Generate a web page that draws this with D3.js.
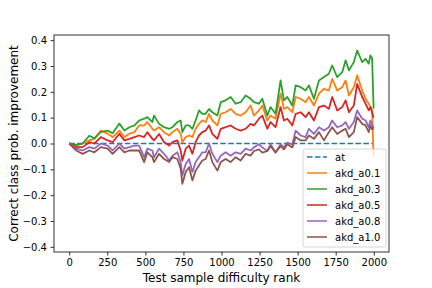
<!DOCTYPE html>
<html>
<head>
<meta charset="utf-8">
<script src="https://cdn.jsdelivr.net/npm/d3@7"></script>
<style>
  body { margin: 0; background: #fff; }
  svg text { font-family: "DejaVu Sans", sans-serif; fill: #000; }
</style>
</head>
<body>
<svg id="chart" width="432" height="288"></svg>
<script>
const ranks = [0, 45, 88, 132, 165, 208, 252, 285, 329, 362, 395, 428,
  459, 492, 513, 546, 557, 590, 623, 656, 678, 710, 732, 743, 765, 787, 809, 830,
  852, 874, 896, 918, 940, 973, 995, 1027, 1060, 1093, 1126, 1158, 1191,
  1213, 1246, 1268, 1301, 1322, 1355, 1388, 1410, 1432, 1465, 1487, 1520, 1552,
  1574, 1607, 1640, 1673, 1705, 1727, 1760, 1793, 1815, 1837, 1869, 1891, 1924,
  1946, 1967, 1978, 1989, 1999];

const atVals = ranks.map(() => 0);

const a01 = [0, -0.008, 0, 0.012, 0.018, 0.05, 0.038, 0.025, 0.05, 0.025, 0.038, 0.044,
  0.07, 0.07, 0.083, 0.057, 0.05, 0.063, 0.044, 0.031, 0.044, 0.057, 0.037, 0.005, 0.025, 0.031, 0.025, 0.057,
  0.076, 0.089, 0.083, 0.115, 0.089, 0.07, 0.115, 0.121, 0.134, 0.115, 0.108, 0.121, 0.147,
  0.108, 0.128, 0.147, 0.089, 0.108, 0.096, 0.193, 0.134, 0.141, 0.121, 0.18, 0.173, 0.16,
  0.18, 0.147, 0.193, 0.212, 0.205, 0.25, 0.205, 0.218, 0.244, 0.186, 0.218, 0.264, 0.205,
  0.173, 0.154, 0.141, 0.13, -0.055];

const a03 = [0, -0.005, 0, 0.03, 0.02, 0.045, 0.05, 0.04, 0.077, 0.05, 0.063, 0.07,
  0.089, 0.096, 0.102, 0.083, 0.108, 0.076, 0.063, 0.057, 0.063, 0.083, 0.089, 0.044, 0.07, 0.07, 0.057, 0.089,
  0.128, 0.115, 0.115, 0.134, 0.121, 0.108, 0.16, 0.167, 0.18, 0.154, 0.16, 0.186, 0.173,
  0.16, 0.154, 0.173, 0.108, 0.141, 0.115, 0.244, 0.167, 0.18, 0.147, 0.225, 0.218, 0.205,
  0.225, 0.173, 0.244, 0.257, 0.27, 0.302, 0.257, 0.276, 0.322, 0.283, 0.315, 0.36, 0.315,
  0.328, 0.309, 0.341, 0.33, 0.135];

const a05 = [0, -0.014, -0.014, 0.005, 0, 0.025, 0.012, 0.005, 0.038, 0.012, 0.018, 0.025,
  0.031, 0.025, 0.044, 0.018, 0.012, 0.037, 0.005, -0.008, 0.005, 0.012, -0.027, -0.066, -0.02, -0.008, -0.04, 0.005,
  0.031, 0.044, 0.05, 0.07, 0.037, 0.018, 0.057, 0.063, 0.07, 0.057, 0.05, 0.057, 0.076,
  0.07, 0.096, 0.108, 0.057, 0.083, 0.063, 0.141, 0.089, 0.096, 0.07, 0.115, 0.121, 0.102,
  0.121, 0.089, 0.141, 0.147, 0.134, 0.18, 0.128, 0.141, 0.167, 0.121, 0.147, 0.231, 0.18,
  0.154, 0.128, 0.141, 0.12, 0.1];

const a08 = [0, -0.02, -0.027, -0.014, -0.02, 0, -0.008, -0.027, 0, -0.02, -0.014, -0.008,
  -0.008, -0.053, -0.02, -0.027, -0.053, -0.02, -0.04, -0.066, -0.047, -0.034, -0.072, -0.124, -0.079, -0.06, -0.11, -0.072,
  -0.053, -0.034, -0.034, 0, -0.04, -0.072, -0.047, -0.034, -0.047, -0.034, -0.04, -0.02, -0.027,
  -0.015, -0.003, -0.015, -0.029, -0.003, -0.035, -0.003, -0.015, 0.003, -0.003, 0.05, 0.031, 0.025,
  0.057, 0.037, 0.063, 0.05, 0.063, 0.089, 0.063, 0.07, 0.083, 0.057, 0.083, 0.128, 0.096,
  0.089, 0.063, 0.089, 0.075, 0.06];

const a10 = [0, -0.027, -0.04, -0.027, -0.034, -0.014, -0.02, -0.04, -0.014, -0.034, -0.027, -0.027,
  -0.027, -0.072, -0.034, -0.053, -0.072, -0.04, -0.06, -0.072, -0.053, -0.06, -0.098, -0.156, -0.11, -0.092, -0.143, -0.105,
  -0.085, -0.066, -0.06, -0.027, -0.072, -0.105, -0.072, -0.06, -0.072, -0.053, -0.066, -0.04, -0.047,
  -0.029, -0.023, -0.035, -0.029, -0.01, -0.035, -0.01, -0.023, -0.003, -0.015, 0.025, 0.012, 0.012,
  0.031, 0.018, 0.044, 0.012, 0.044, 0.063, 0.037, 0.05, 0.057, 0.025, 0.044, 0.102, 0.076,
  0.07, 0.044, 0.07, 0.055, 0.06];

const seriesNames = ["at", "akd_a0.1", "akd_a0.3", "akd_a0.5", "akd_a0.8", "akd_a1.0"];
const seriesVals = [atVals, a01, a03, a05, a08, a10];
const colors = ["#1f77b4", "#ff7f0e", "#2ca02c", "#d62728", "#9467bd", "#8c564b"];
const xTicks = [0, 250, 500, 750, 1000, 1250, 1500, 1750, 2000];
const yTicks = [-0.4, -0.3, -0.2, -0.1, 0.0, 0.1, 0.2, 0.3, 0.4];

const svg = d3.select("#chart");
const margin = {top: 35, right: 43, bottom: 36, left: 54};
const W = 432, H = 288;

const x = d3.scaleLinear().domain([-100, 2100]).range([margin.left, W - margin.right]);
const y = d3.scaleLinear().domain([-0.42, 0.42]).range([H - margin.bottom, margin.top]);

const fmt = v => d3.format(".1f")(v).replace("-", "\u2212");

// axes
const xAxis = svg.append("g")
  .attr("transform", `translate(0,${H - margin.bottom})`)
  .call(d3.axisBottom(x).tickValues(xTicks).tickSize(3.5).tickPadding(3.5).tickFormat(d3.format("d")));
const yAxis = svg.append("g")
  .attr("transform", `translate(${margin.left},0)`)
  .call(d3.axisLeft(y).tickValues(yTicks).tickSize(3.5).tickPadding(3.5).tickFormat(fmt));
[xAxis, yAxis].forEach(a => {
  a.select(".domain").remove();
  a.selectAll("line").attr("stroke", "#000").attr("stroke-width", 0.8);
  a.selectAll("text").attr("font-size", 10).attr("font-family", "DejaVu Sans");
});

// lines
const line = d3.line()
  .x((d, i) => x(ranks[i]))
  .y(d => y(d));

svg.append("defs").append("clipPath").attr("id", "clip")
  .append("rect")
  .attr("x", margin.left).attr("y", margin.top)
  .attr("width", W - margin.left - margin.right)
  .attr("height", H - margin.top - margin.bottom);

const plot = svg.append("g").attr("clip-path", "url(#clip)");
seriesVals.forEach((vals, k) => {
  plot.append("path")
    .datum(vals)
    .attr("d", line)
    .attr("fill", "none")
    .attr("stroke", colors[k])
    .attr("stroke-width", k == 0 ? 1.5 : 1.8)
    .attr("stroke-linejoin", "round")
    .attr("stroke-dasharray", k == 0 ? "5.55,2.4" : null);
});

// frame
svg.append("rect")
  .attr("x", margin.left).attr("y", margin.top)
  .attr("width", W - margin.left - margin.right)
  .attr("height", H - margin.top - margin.bottom)
  .attr("fill", "none").attr("stroke", "#000").attr("stroke-width", 0.8);

// axis labels
svg.append("text")
  .attr("x", (margin.left + W - margin.right) / 2)
  .attr("y", 282)
  .attr("text-anchor", "middle")
  .attr("font-size", 12)
  .text("Test sample difficulty rank");
svg.append("text")
  .attr("transform", `translate(17.5,${(margin.top + H - margin.bottom) / 2}) rotate(-90)`)
  .attr("text-anchor", "middle")
  .attr("font-size", 12)
  .text("Correct class prob. improvement");

// legend
const lg = svg.append("g").attr("transform", "translate(303,149)");
lg.append("rect")
  .attr("width", 83).attr("height", 98).attr("rx", 2)
  .attr("fill", "#fff").attr("fill-opacity", 0.8)
  .attr("stroke", "#ccc").attr("stroke-width", 0.8);
seriesNames.forEach((name, k) => {
  const row = lg.append("g").attr("transform", `translate(0,${8 + k * 16})`);
  row.append("line")
    .attr("x1", 4).attr("x2", 24)
    .attr("stroke", colors[k]).attr("stroke-width", 1.5)
    .attr("stroke-dasharray", k == 0 ? "5.55,2.4" : null);
  row.append("text")
    .attr("x", 32).attr("dy", "0.35em")
    .attr("font-size", 10)
    .text(name);
});
</script>
</body>
</html>
